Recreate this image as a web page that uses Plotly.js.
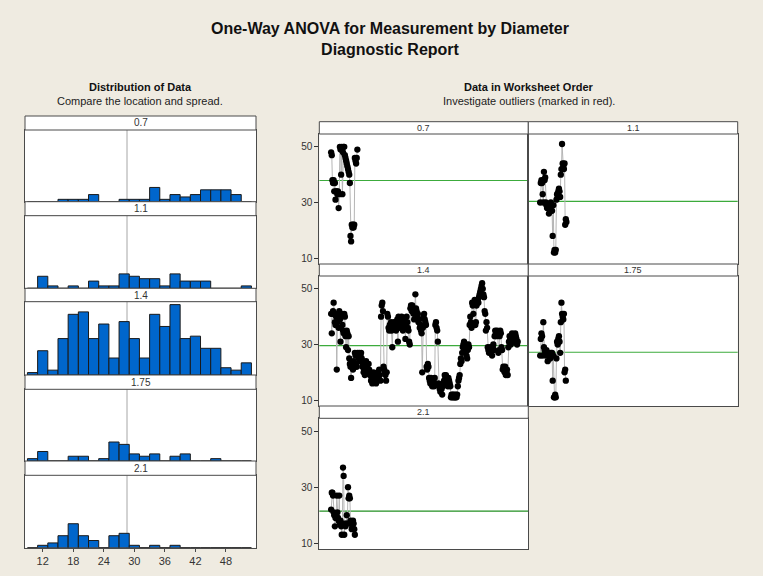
<!DOCTYPE html>
<html><head><meta charset="utf-8">
<script src="https://cdn.plot.ly/plotly-3.0.1.min.js"></script>
<style>html,body{margin:0;padding:0;background:#efebe1;} #chart{width:763px;height:576px;}</style>
</head><body><div id="chart"></div>
<script>
// ---------- DATA ----------
const groups = ['0.7', '1.1', '1.4', '1.75', '2.1'];
const binMids = [10,12,14,16,18,20,22,24,26,28,30,32,34,36,38,40,42,44,46,48,50,52];
const counts07  = [0,0,0,1,1,1,3,0,0,1,1,1,6,1,3,2,3,5,5,5,3,0];
const counts11  = [0,5,1,0,1,0,3,1,1,6,5,4,4,1,6,3,3,3,0,0,0,1];
const counts14  = [1,10,2,15,25,26,15,21,7,22,15,7,25,20,29,15,16,11,11,3,2,5];
const counts175 = [1,4,0,0,2,2,0,1,8,7,3,2,3,0,2,3,0,0,1,0,0,0];
const counts21  = [0,1,2,5,10,5,3,0,5,6,1,0,1,0,1,0,0,0,0,0,0,0];
const histTicks = [12,18,24,30,36,42,48];
const grandMean = 28.56;

const series07 = [48,47,38,37,38,34,37,31,34,34,33,34,28,33,50,49,40,50,33,48,50,50,47,46,45,44,43,42,41,40,37,18,16,22,21,22,21,22,46,45,44,46,49];
const series11 = [30,37,38,37,33,30,41,38,39,30,29,28,29,28,26,29,28,30,29,27,18,29,12,13,12,13,31,33,32,34,35,34,32,40,42,51,44,43,42,44,22,24,23];
const series14 = [
  41,34,41,42,45,41,38,37,40,21,38,41,36,42,39,31,40,41,37,35,
  34,41,40,33,29,35,34,28,33,25,
  23,22,18,22,23,21,24,22,27,26,23,22,27,26,25,27,24,
  26,27,25,22,23,20,21,19,22,24,23,20,21,
  23,21,19,20,17,18,16,19,20,17,19,18,16,17,19,20,18,21,19,17,
  40,44,45,42,22,21,20,19,17,20,
  41,40,36,35,37,36,38,35,29,36,37,38,36,38,35,
  37,39,31,40,36,38,37,39,40,38,35,36,39,38,32,37,40,38,36,35,31,30,
  43,44,42,44,43,41,39,42,48,43,42,40,41,38,39,36,
  37,35,34,20,36,40,41,39,38,37,22,21,23,22,18,17,16,
  18,17,15,16,17,15,18,37,38,36,35,31,16,15,14,13,15,14,12,15,
  16,17,19,18,19,17,16,15,18,17,16,15,11,12,11,12,11,12,11,11,
  12,11,12,15,17,18,19,23,25,24,27,29,30,31,28,29,30,26,25,28,
  30,29,37,40,38,36,45,44,41,45,46,37,38,44,45,46,45,47,48,49,50,51,52,50,48,
  47,42,41,35,38,36,29,28,27,28,29,27,28,26,29,30,28,
  33,35,34,33,35,34,27,28,33,35,34,29,28,21,22,21,20,22,19,20,21,19,29,
  31,33,32,30,32,34,33,32,33,31,34,33,32,30,31
];
const series175 = [26,32,34,33,26,38,29,28,27,26,28,27,24,26,27,26,25,27,26,27,17,26,11,11,12,11,25,31,30,32,33,31,27,38,45,41,40,39,41,20,21,17];
const series21 = [22,28,28,27,21,20,16,19,20,27,21,19,18,27,17,18,16,13,17,37,34,13,17,16,17,20,17,30,26,27,26,18,17,15,16,18,17,15,13];
const groupMeans = [37.9, 30.4, 29.6, 27.2, 21.4];
const orderTicks = [10, 30, 50];

const allCounts = [counts07, counts11, counts14, counts175, counts21];
const allSeries = [series07, series11, series14, series175, series21];

// ---------- LAYOUT GEOMETRY ----------
const W = 763, H = 576;
const fx = p => p / W;
const fy = p => 1 - p / H;
const FONT = 'Liberation Sans, Arial, sans-serif';
const BORDER = '#4a4a4a';

const leftX = [25, 256];
const leftPanels = [[130,201.7],[215.7,288.3],[301.7,375],[389.3,461],[475.3,547.7]];
const leftStrips = [[116,130],[201.7,215.7],[288.3,301.7],[375,389.3],[461,475.3]];

const rightCols = [[319.3,528.3],[528.3,737.7]];
const rightRows = [[134,264],[276,406],[418.3,549]];
const rightStrips = [[121.7,134],[264,276],[406,418.3]];
const rightPos = [[0,0],[1,0],[0,1],[1,1],[0,2]];

const axName = (p, n) => n === 1 ? p + 'axis' : p + 'axis' + n;
const axRef = (p, n) => n === 1 ? p : p + n;

const traces = [];
const layout = {
  width: W, height: H,
  margin: {l:0, r:0, t:0, b:0},
  paper_bgcolor: '#efebe1',
  plot_bgcolor: '#ffffff',
  showlegend: false,
  font: {family: FONT, color: '#222'},
  bargap: 0,
  title: {
    text: '<b>One-Way ANOVA for Measurement by Diameter</b><br><b>Diagnostic Report</b>',
    x: fx(390), xanchor: 'center', xref: 'paper',
    y: fy(34), yanchor: 'top', yref: 'paper',
    font: {family: FONT, size: 16, color: '#111'}
  },
  shapes: [],
  annotations: []
};

// Left histograms
for (let i = 0; i < 5; i++) {
  const n = i + 1;
  traces.push({
    type: 'bar', x: binMids, y: allCounts[i], width: 2,
    xaxis: axRef('x', n), yaxis: axRef('y', n),
    marker: {color: '#0066cc', line: {color: '#1a1a1a', width: 1}},
    hoverinfo: 'skip'
  });
  layout[axName('x', n)] = {
    domain: [fx(leftX[0]), fx(leftX[1])], range: [8.52, 53.9],
    anchor: axRef('y', n), showgrid: false, zeroline: false,
    showline: true, mirror: true, linecolor: BORDER, linewidth: 1,
    tickvals: histTicks, showticklabels: i === 4,
    ticks: i === 4 ? 'outside' : '', ticklen: 3, tickcolor: BORDER,
    tickfont: {family: FONT, size: 11, color: '#333'}, fixedrange: true
  };
  layout[axName('y', n)] = {
    domain: [fy(leftPanels[i][1]), fy(leftPanels[i][0])], range: [0, 30.2],
    anchor: axRef('x', n), showgrid: false, zeroline: false,
    showline: true, mirror: true, linecolor: BORDER, linewidth: 1,
    showticklabels: false, ticks: '', fixedrange: true
  };
  layout.shapes.push({
    type: 'line', layer: 'below', xref: axRef('x', n), yref: axRef('y', n) + ' domain',
    x0: grandMean, x1: grandMean, y0: 0, y1: 1, line: {color: '#a6a6a6', width: 1}
  });
  layout.shapes.push({
    type: 'rect', xref: 'paper', yref: 'paper',
    x0: fx(leftX[0]), x1: fx(leftX[1]), y0: fy(leftStrips[i][1]), y1: fy(leftStrips[i][0]),
    fillcolor: '#ffffff', line: {color: BORDER, width: 1}
  });
  layout.annotations.push({
    xref: 'paper', yref: 'paper', x: fx((leftX[0] + leftX[1]) / 2), y: fy((leftStrips[i][0] + leftStrips[i][1]) / 2),
    xanchor: 'center', yanchor: 'middle', showarrow: false, text: groups[i],
    font: {family: FONT, size: 10, color: '#333'}
  });
}

// Right worksheet-order panels
for (let i = 0; i < 5; i++) {
  const n = i + 6;
  const [c, r] = rightPos[i];
  const ys = allSeries[i];
  const xs = ys.map((_, k) => k + 1);
  traces.push({
    type: 'scatter', mode: 'lines+markers', x: xs, y: ys,
    xaxis: axRef('x', n), yaxis: axRef('y', n),
    line: {color: '#b5b5b5', width: 1},
    marker: {color: '#000000', size: 6.3},
    hoverinfo: 'skip'
  });
  layout[axName('x', n)] = {
    domain: [fx(rightCols[c][0]), fx(rightCols[c][1])], range: [-18, 317],
    anchor: axRef('y', n), showgrid: false, zeroline: false,
    showline: true, mirror: true, linecolor: BORDER, linewidth: 1,
    showticklabels: false, ticks: '', fixedrange: true
  };
  layout[axName('y', n)] = {
    domain: [fy(rightRows[r][1]), fy(rightRows[r][0])], range: [7.9, 54.6],
    anchor: axRef('x', n), showgrid: false, zeroline: false,
    showline: true, mirror: true, linecolor: BORDER, linewidth: 1,
    tickvals: orderTicks, showticklabels: c === 0,
    ticks: c === 0 ? 'outside' : '', ticklen: 4, tickcolor: '#333',
    tickfont: {family: FONT, size: 10, color: '#333'}, fixedrange: true
  };
  layout.shapes.push({
    type: 'line', layer: 'below', xref: axRef('x', n) + ' domain', yref: axRef('y', n),
    x0: 0, x1: 1, y0: groupMeans[i], y1: groupMeans[i],
    line: {color: i === 4 ? '#228f22' : '#3cab3c', width: 1.2}
  });
  layout.shapes.push({
    type: 'rect', xref: 'paper', yref: 'paper',
    x0: fx(rightCols[c][0]), x1: fx(rightCols[c][1]), y0: fy(rightStrips[r][1]), y1: fy(rightStrips[r][0]),
    fillcolor: '#ffffff', line: {color: BORDER, width: 1}
  });
  layout.annotations.push({
    xref: 'paper', yref: 'paper', x: fx((rightCols[c][0] + rightCols[c][1]) / 2), y: fy((rightStrips[r][0] + rightStrips[r][1]) / 2),
    xanchor: 'center', yanchor: 'middle', showarrow: false, text: groups[i],
    font: {family: FONT, size: 9, color: '#333'}
  });
}

// Section headings
layout.annotations.push(
  {xref:'paper', yref:'paper', x: fx(140), y: fy(87), xanchor:'center', yanchor:'middle', showarrow:false,
   text:'<b>Distribution of Data</b>', font:{family: FONT, size: 11, color:'#111'}},
  {xref:'paper', yref:'paper', x: fx(140), y: fy(101), xanchor:'center', yanchor:'middle', showarrow:false,
   text:'Compare the location and spread.', font:{family: FONT, size: 11, color:'#222'}},
  {xref:'paper', yref:'paper', x: fx(528.5), y: fy(87), xanchor:'center', yanchor:'middle', showarrow:false,
   text:'<b>Data in Worksheet Order</b>', font:{family: FONT, size: 11, color:'#111'}},
  {xref:'paper', yref:'paper', x: fx(528.5), y: fy(101), xanchor:'center', yanchor:'middle', showarrow:false,
   text:'Investigate outliers (marked in red).', font:{family: FONT, size: 11, color:'#222'}}
);

Plotly.newPlot('chart', traces, layout, {staticPlot: true, displayModeBar: false});
</script>
</body></html>
